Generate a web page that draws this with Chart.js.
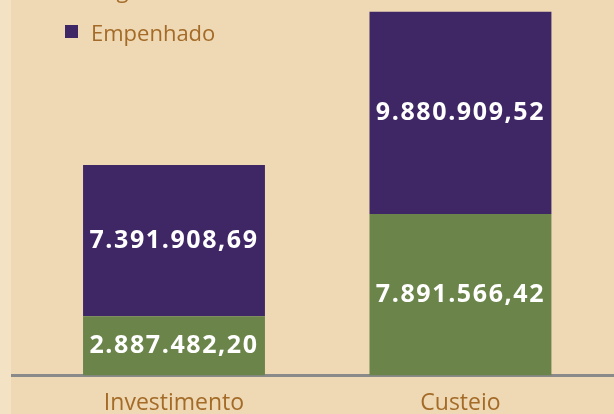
<!DOCTYPE html>
<html lang="pt-BR">
<head>
<meta charset="utf-8">
<title>Execução orçamentária</title>
<script src="https://cdn.jsdelivr.net/npm/chart.js@4/dist/chart.umd.min.js"></script>
<style>
  html, body { margin: 0; padding: 0; }
  body { width: 614px; height: 414px; overflow: hidden; position: relative; background: #f4e2c4; font-family: 'Open Sans', sans-serif; }
  #panel { position: absolute; left: 11px; top: 0; width: 603px; height: 414px; background: #efd8b4; }
  #chart { position: absolute; left: 0; top: 0; }
  #legend { position: absolute; left: 54px; top: -33px; margin: 0; padding: 0; list-style: none; }
  #legend li { display: flex; align-items: center; height: 43px; font-size: 22px; color: #a36b27; }
  #legend span { display: inline-block; width: 13px; height: 13px; margin-right: 13px; }
</style>
</head>
<body>
<div id="panel">
  <canvas id="chart" width="603" height="431"></canvas>
  <ul id="legend"></ul>
</div>
<script>
/* dados: valores em reais por categoria */
const categories = ['Investimento', 'Custeio']
const pago = [2887482.20, 7891566.42]
const empenhado = [7391908.69, 9880909.52]
const seriesNames = ['Pago', 'Empenhado']

const green = '#6a8449'
const purple = '#3f2766'
const brown = '#a36b27'

/* formata numero no padrao brasileiro 1.234.567,89 */
const brl = (v) => {
    const [int, dec] = v.toFixed(2).split('.')
    return int.replace(/\B(?=(\d{3})+(?!\d))/g, '.') + ',' + dec
}

/* escreve o valor no meio de cada segmento da barra */
const barValues = {
    id: 'barValues',
    afterDatasetsDraw(chart) {
        const { ctx } = chart
        ctx.save()
        ctx.font = 'bold 25px "Open Sans"'
        ctx.fillStyle = '#ffffff'
        ctx.textAlign = 'center'
        ctx.textBaseline = 'middle'
        ctx.letterSpacing = '1.6px'
        chart.data.datasets.forEach((ds, i) => {
            chart.getDatasetMeta(i).data.forEach((bar, j) => {
                ctx.fillText(brl(ds.data[j].y), bar.x, (bar.y + bar.base) / 2)
            })
        })
        ctx.restore()
    }
}

const toPoints = (values) => values.map((y, x) => ({ x, y }))

const chart = new Chart(document.querySelector('#chart'), {
    type: 'bar',
    data: {
        datasets: [
            { label: seriesNames[0], data: toPoints(pago), backgroundColor: green },
            { label: seriesNames[1], data: toPoints(empenhado), backgroundColor: purple }
        ]
    },
    options: {
        responsive: false,
        animation: false,
        layout: { padding: { top: 7, left: 0, right: 0, bottom: 0 } },
        categoryPercentage: 1,
        barPercentage: 0.635,
        plugins: { legend: { display: false }, tooltip: { enabled: false } },
        scales: {
            x: {
                type: 'linear',
                stacked: true,
                offset: false,
                min: -0.569,
                max: 1.536,
                grid: { display: false, drawTicks: false },
                border: { display: true, color: '#8a8a8a', width: 3 },
                afterBuildTicks: (scale) => { scale.ticks = categories.map((c, i) => ({ value: i })) },
                ticks: {
                    autoSkip: false,
                    maxRotation: 0,
                    padding: 14,
                    color: brown,
                    font: { family: 'Open Sans', size: 23 },
                    callback: (value) => categories[value]
                }
            },
            y: { display: false, stacked: true, min: 0, max: 18000000 }
        }
    },
    plugins: [barValues]
})

/* legenda em html a partir dos datasets */
document.querySelector('#legend').innerHTML = chart.data.datasets
    .map(ds => `<li><span style="background:${ds.backgroundColor}"></span>${ds.label}</li>`)
    .join('')
</script>
</body>
</html>
